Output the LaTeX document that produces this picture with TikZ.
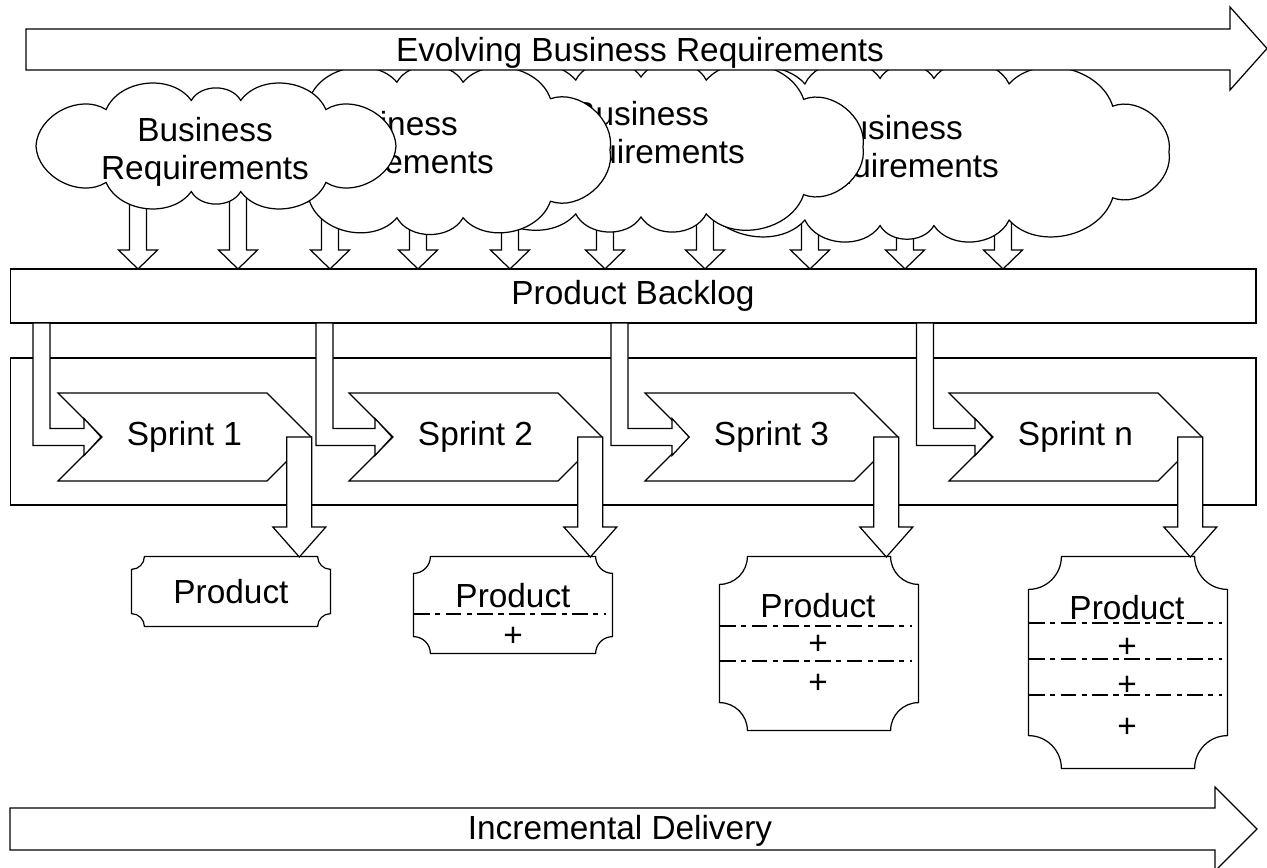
\documentclass[tikz,border=0pt]{standalone}
\usepackage{fontspec}
\setmainfont{Liberation Sans}
\usetikzlibrary{shapes.symbols,calc,positioning}

% cloud: centre x, centre y, x radius, y radius, puffs, spread
\newcommand{\reqcloud}[6]{%
	\draw[fill=white] ({#1+#3},#2) \foreach \k in {1,...,#5}{
		to[bend left=60] ({#1+#3*cos(360*\k/#5+#6*57.3*sin(720*\k/#5))},{#2+#4*sin(360*\k/#5+#6*57.3*sin(720*\k/#5))})} -- cycle;}

\begin{document}
\begin{tikzpicture}[x=0.02cm,y=-0.02cm,line width=0.7pt,
	every node/.style={font=\fontsize{19}{21.5}\selectfont},
	reqtext/.style={align=center,inner sep=0pt},
	sprintbox/.style={signal,draw,fill=white,signal from=west,signal to=east,minimum width=5.06cm,minimum height=1.76cm,inner sep=0pt},
	blockarrow/.style={draw,fill=white},
	prodbox/.style={minimum width=3.96cm,inner sep=0pt},
	cut/.style={dash pattern=on 9pt off 3pt on 3pt off 3pt}]
	\useasboundingbox (0,0) rectangle (1267,868);

	\node[draw,minimum width=24.92cm,minimum height=1.08cm] (backlog) at (633,296) {Product Backlog};

	% requirements flowing into the backlog
	\foreach \x in {138,238,330,418,510,605,705,810,905,1003}
		\draw[blockarrow] (\x-8.5,150) -- (\x+8.5,150) -- (\x+8.5,250) -- (\x+19.5,250) -- (\x,269) -- (\x-19.5,250) -- (\x-8.5,250) -- cycle;

	\reqcloud{907}{152}{262}{74}{14}{0.28}
	\node[reqtext] (req4) at (895,149.5) {Business\\Requirements};
	\reqcloud{641}{147}{222}{70}{12}{0.26}
	\node[reqtext] (req3) at (641,136) {Business\\Requirements};
	\reqcloud{430}{150}{180}{69}{10}{0.22}
	\node[reqtext] (req2) at (390,146) {Business\\Requirements};
	\reqcloud{216}{146}{180}{46}{10}{0.3}
	\node[reqtext] (req1) at (205,152) {Business\\Requirements};

	% big arrows
	\draw[fill=white] (26,29) -- (1230,29) -- (1230,7) -- (1267,48.5) -- (1230,90) -- (1230,70) -- (26,70) -- cycle;
	\node (evolve) at (640,53) {Evolving Business Requirements};
	\draw (10,808) -- (1215,808) -- (1215,787) -- (1257,829) -- (1215,871) -- (1215,850) -- (10,850) -- cycle;
	\node (deliver) at (620,831) {Incremental Delivery};

	% sprints
	\node[draw,minimum width=24.92cm,minimum height=2.94cm] (sprints) at (633,431.5) {};
	\node[sprintbox] (s1) at (184.5,437) {Sprint 1};
	\node[sprintbox] (s2) at (475.5,437) {Sprint 2};
	\node[sprintbox] (s3) at (771.5,437) {Sprint 3};
	\node[sprintbox] (s4) at (1075.5,437) {Sprint n};

	\foreach \xv/\xt in {41.5/101,324.5/392,619.5/689,925/992}
		\draw[blockarrow] (\xv-8.5,323) -- (\xv+8.5,323) -- (\xv+8.5,428.5) -- (\xt-17,428.5) -- (\xt-17,418.5) -- (\xt,437)
			-- (\xt-17,455.5) -- (\xt-17,445.5) -- (\xv-8.5,445.5) -- cycle;

	% products
	\node[prodbox,minimum height=1.38cm] (p1) at (231,591.5) {};
	\node[prodbox,minimum height=1.92cm] (p2) at (513,605) {};
	\node[prodbox,minimum height=3.46cm] (p3) at (819,643.5) {};
	\node[prodbox,minimum height=4.22cm] (p4) at (1128,662.5) {};
	\foreach \p/\r in {p1/13,p2/17,p3/28,p4/33}
		\draw ($(\p.north west)+(\r,0)$) -- ($(\p.north east)+(-\r,0)$) arc[start angle=180,end angle=90,radius=\r]
			-- ($(\p.south east)+(0,-\r)$) arc[start angle=270,end angle=180,radius=\r]
			-- ($(\p.south west)+(\r,0)$) arc[start angle=0,end angle=-90,radius=\r]
			-- ($(\p.north west)+(0,\r)$) arc[start angle=90,end angle=0,radius=\r] -- cycle;

	\foreach \s/\p in {s1/p1,s2/p2,s3/p3,s4/p4}
		\draw[blockarrow] (\s.east) -- ++(0,90) -- ++(14,0) -- ++(-26.5,30) -- ++(-26.5,-30) -- ++(14,0) -- ++(0,-90) -- cycle;

	\node at (231,592) {Product};
	\node at (513,596) {Product};
	\draw[cut] (414,614) -- (606,614);
	\node at (513,637) {+};
	\node at (818,606) {Product};
	\draw[cut] (720,626) -- (912,626);
	\node at (818,645) {+};
	\draw[cut] (720,661) -- (912,661);
	\node at (818,684) {+};
	\node at (1127,608) {Product};
	\draw[cut] (1029,623) -- (1222,623);
	\node at (1127,648) {+};
	\draw[cut] (1029,659) -- (1222,659);
	\node at (1127,686) {+};
	\draw[cut] (1029,695) -- (1222,695);
	\node at (1127,728) {+};
\end{tikzpicture}
\end{document}
